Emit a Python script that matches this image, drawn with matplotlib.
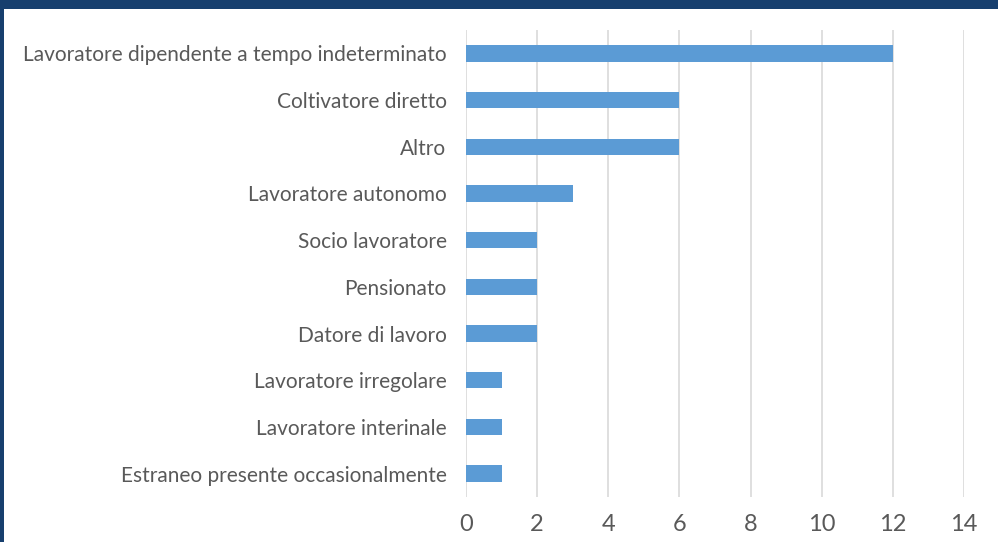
import matplotlib
matplotlib.use("Agg")
import matplotlib.pyplot as plt
from matplotlib.patches import Rectangle

categories = [
    "Lavoratore dipendente a tempo indeterminato",
    "Coltivatore diretto",
    "Altro",
    "Lavoratore autonomo",
    "Socio lavoratore",
    "Pensionato",
    "Datore di lavoro",
    "Lavoratore irregolare",
    "Lavoratore interinale",
    "Estraneo presente occasionalmente",
]
values = [12, 6, 6, 3, 2, 2, 2, 1, 1, 1]
xticks = [0, 2, 4, 6, 8, 10, 12, 14]

plt.rcParams['font.family'] = ['Lato', 'DejaVu Sans']

fig = plt.figure(figsize=(9.98, 5.42), dpi=100)
fig.patch.set_facecolor('white')
fig.patches.append(Rectangle((0, 1 - 9/542), 1, 9/542, transform=fig.transFigure,
                             facecolor='#173F6E', edgecolor='none', zorder=0))
fig.patches.append(Rectangle((0, 0), 4/998, 1, transform=fig.transFigure,
                             facecolor='#173F6E', edgecolor='none', zorder=0))

ax = fig.add_axes([466/998, 1 - 497/542, (964 - 466)/998, (497 - 30)/542])
pos = list(range(len(categories)))
ax.barh(pos, values, height=0.35, color='#5B9BD5', zorder=3)
ax.set_ylim(len(categories) - 0.5, -0.5)
ax.set_xlim(0, 14)
ax.set_xticks(xticks)
ax.set_xticklabels([str(t) for t in xticks], fontsize=17, color='#595959')
ax.set_yticks(pos)
ax.set_yticklabels(categories, fontsize=15, color='#595959')
ax.tick_params(axis='y', length=0, pad=14)
ax.tick_params(axis='x', length=0, pad=12)
ax.grid(axis='x', color='#D9D9D9', linewidth=1.2, zorder=0)
for s in ax.spines.values():
    s.set_visible(False)

fig.savefig("out.png", dpi=100)
